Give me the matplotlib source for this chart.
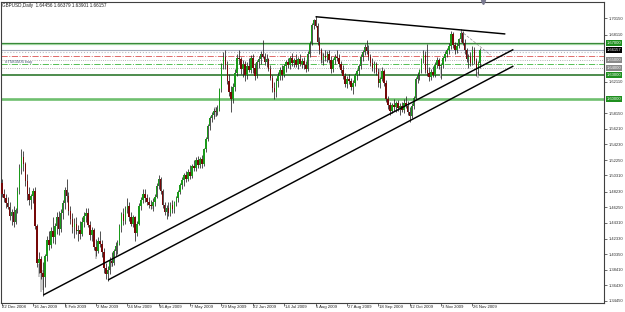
import numpy as np
import matplotlib.pyplot as plt
from matplotlib.transforms import blended_transform_factory

plt.rcParams["font.family"] = ["Liberation Sans", "DejaVu Sans"]

# ===========================
# Data
# ===========================

header = "GBPUSD,Daily  1.64456 1.66379 1.63901 1.66157"

# one entry per daily bar, 22 Dec 2008 .. early Dec 2009
opens = [
    1.4930, 1.4800, 1.4740, 1.4680, 1.4630, 1.4520, 1.4570, 1.4440, 1.4590, 1.4830,
    1.5120, 1.5260, 1.5180, 1.4960, 1.4790, 1.4720, 1.4770, 1.4830, 1.4390, 1.3920,
    1.3980, 1.3800, 1.3750, 1.4010, 1.4220, 1.4150, 1.4330, 1.4250, 1.4390, 1.4500,
    1.4350, 1.4550, 1.4680, 1.4840, 1.4770, 1.4580, 1.4480, 1.4380, 1.4420, 1.4330,
    1.4340, 1.4290, 1.4440, 1.4520, 1.4560, 1.4410, 1.4280, 1.4340, 1.4130, 1.4080,
    1.4200, 1.4160, 1.4060, 1.3860, 1.3780, 1.3830, 1.3950, 1.3920, 1.4070, 1.4140,
    1.4180, 1.4390, 1.4540, 1.4460, 1.4600, 1.4650, 1.4500, 1.4420, 1.4500, 1.4300,
    1.4420, 1.4640, 1.4720, 1.4800, 1.4740, 1.4700, 1.4660, 1.4640, 1.4700, 1.4760,
    1.4900, 1.4980, 1.4830, 1.4660, 1.4570, 1.4620, 1.4560, 1.4660, 1.4600, 1.4690,
    1.4740, 1.4820, 1.4910, 1.4970, 1.5030, 1.4990, 1.5070, 1.5020, 1.5150, 1.5120,
    1.5220, 1.5160, 1.5240, 1.5170, 1.5360, 1.5490, 1.5650, 1.5750, 1.5790, 1.5840,
    1.5830, 1.5870, 1.6120, 1.6420, 1.6530, 1.6420, 1.6220, 1.6080, 1.5990, 1.6150,
    1.6330, 1.6520, 1.6500, 1.6370, 1.6440, 1.6300, 1.6410, 1.6360, 1.6510, 1.6390,
    1.6290, 1.6460, 1.6500, 1.6560, 1.6530, 1.6470, 1.6500, 1.6380, 1.6260, 1.6140,
    1.6080, 1.6220, 1.6290, 1.6360, 1.6300, 1.6410, 1.6460, 1.6420, 1.6510, 1.6450,
    1.6490, 1.6430, 1.6500, 1.6440, 1.6480, 1.6420, 1.6370, 1.6570, 1.6700, 1.6930,
    1.6990, 1.6920, 1.6720, 1.6610, 1.6490, 1.6540, 1.6520, 1.6570, 1.6490, 1.6370,
    1.6490, 1.6530, 1.6510, 1.6440, 1.6360, 1.6290, 1.6190, 1.6250, 1.6220, 1.6150,
    1.6200, 1.6300, 1.6350, 1.6410, 1.6530, 1.6590, 1.6650, 1.6600, 1.6530, 1.6450,
    1.6390, 1.6440, 1.6340, 1.6200, 1.6250, 1.6350, 1.6200, 1.6000, 1.5920, 1.5850,
    1.5920, 1.5890, 1.5940, 1.5880, 1.5910, 1.5860, 1.5950, 1.5910, 1.5830, 1.5780,
    1.5910, 1.6010, 1.6250, 1.6300, 1.6360, 1.6490, 1.6550, 1.6360, 1.6330, 1.6280,
    1.6340, 1.6300, 1.6430, 1.6490, 1.6410, 1.6420, 1.6510, 1.6570, 1.6610, 1.6660,
    1.6820, 1.6680, 1.6620, 1.6670, 1.6750, 1.6830, 1.6710, 1.6610, 1.6500, 1.6530,
    1.6450, 1.6620, 1.6480, 1.6380, 1.64456,
]

highs = [
    1.4990, 1.4860, 1.4790, 1.4760, 1.4700, 1.4610, 1.4650, 1.4620, 1.4880, 1.5180,
    1.5370, 1.5340, 1.5200, 1.5050, 1.4880, 1.4800, 1.4870, 1.4880, 1.4420, 1.4060,
    1.4010, 1.3940, 1.4040, 1.4260, 1.4330, 1.4380, 1.4500, 1.4430, 1.4570, 1.4580,
    1.4600, 1.4720, 1.4880, 1.4990, 1.4820, 1.4650, 1.4560, 1.4490, 1.4500, 1.4400,
    1.4460, 1.4500, 1.4570, 1.4620, 1.4620, 1.4460, 1.4380, 1.4360, 1.4230, 1.4250,
    1.4330, 1.4220, 1.4110, 1.3920, 1.3880, 1.4000, 1.4060, 1.4100, 1.4190, 1.4220,
    1.4420, 1.4570, 1.4620, 1.4640, 1.4740, 1.4700, 1.4570, 1.4530, 1.4520, 1.4450,
    1.4680, 1.4760, 1.4860, 1.4860, 1.4790, 1.4760, 1.4720, 1.4740, 1.4790, 1.4930,
    1.5040, 1.5010, 1.4860, 1.4700, 1.4660, 1.4690, 1.4700, 1.4720, 1.4710, 1.4770,
    1.4850, 1.4940, 1.5010, 1.5060, 1.5080, 1.5110, 1.5160, 1.5180, 1.5220, 1.5260,
    1.5280, 1.5260, 1.5290, 1.5380, 1.5520, 1.5680, 1.5780, 1.5830, 1.5880, 1.5900,
    1.5920, 1.6140, 1.6450, 1.6590, 1.6620, 1.6480, 1.6310, 1.6160, 1.6200, 1.6370,
    1.6560, 1.6620, 1.6530, 1.6490, 1.6480, 1.6460, 1.6520, 1.6550, 1.6560, 1.6450,
    1.6490, 1.6540, 1.6600, 1.6740, 1.6580, 1.6560, 1.6520, 1.6420, 1.6300, 1.6210,
    1.6260, 1.6340, 1.6400, 1.6420, 1.6440, 1.6490, 1.6520, 1.6540, 1.6580, 1.6520,
    1.6560, 1.6530, 1.6560, 1.6520, 1.6530, 1.6480, 1.6600, 1.6730, 1.6960, 1.7010,
    1.7040, 1.6960, 1.6780, 1.6640, 1.6580, 1.6610, 1.6600, 1.6620, 1.6540, 1.6520,
    1.6560, 1.6610, 1.6570, 1.6480, 1.6430, 1.6320, 1.6290, 1.6310, 1.6260, 1.6240,
    1.6330, 1.6380, 1.6440, 1.6560, 1.6620, 1.6690, 1.6740, 1.6680, 1.6570, 1.6510,
    1.6480, 1.6470, 1.6390, 1.6280, 1.6400, 1.6370, 1.6230, 1.6030, 1.5960, 1.5950,
    1.5990, 1.5970, 1.5980, 1.5940, 1.5960, 1.5990, 1.6040, 1.5970, 1.5900, 1.5950,
    1.6040, 1.6270, 1.6340, 1.6380, 1.6520, 1.6610, 1.6600, 1.6690, 1.6400, 1.6380,
    1.6410, 1.6460, 1.6530, 1.6520, 1.6450, 1.6540, 1.6600, 1.6640, 1.6700, 1.6860,
    1.6840, 1.6720, 1.6700, 1.6770, 1.6880, 1.6860, 1.6750, 1.6640, 1.6560, 1.6590,
    1.6660, 1.6650, 1.6520, 1.6480, 1.66379,
]

lows = [
    1.4760, 1.4700, 1.4620, 1.4600, 1.4470, 1.4400, 1.4380, 1.4420, 1.4560, 1.4800,
    1.5050, 1.5090, 1.4900, 1.4720, 1.4660, 1.4600, 1.4680, 1.4350, 1.3870, 1.3800,
    1.3720, 1.3510, 1.3620, 1.3950, 1.4090, 1.4110, 1.4180, 1.4160, 1.4290, 1.4280,
    1.4310, 1.4480, 1.4600, 1.4700, 1.4530, 1.4420, 1.4300, 1.4240, 1.4290, 1.4200,
    1.4230, 1.4260, 1.4380, 1.4440, 1.4380, 1.4220, 1.4200, 1.4090, 1.4010, 1.4050,
    1.4130, 1.4000, 1.3800, 1.3720, 1.3700, 1.3790, 1.3880, 1.3900, 1.4010, 1.4040,
    1.4150, 1.4320, 1.4400, 1.4420, 1.4560, 1.4460, 1.4390, 1.4380, 1.4200, 1.4270,
    1.4400, 1.4590, 1.4680, 1.4700, 1.4660, 1.4620, 1.4600, 1.4580, 1.4640, 1.4740,
    1.4860, 1.4800, 1.4620, 1.4530, 1.4480, 1.4520, 1.4520, 1.4560, 1.4560, 1.4640,
    1.4700, 1.4790, 1.4860, 1.4900, 1.4950, 1.4960, 1.4990, 1.5000, 1.5080, 1.5090,
    1.5130, 1.5120, 1.5130, 1.5150, 1.5330, 1.5460, 1.5600, 1.5700, 1.5740, 1.5780,
    1.5790, 1.5850, 1.6080, 1.6380, 1.6370, 1.6180, 1.6030, 1.5830, 1.5950, 1.6100,
    1.6290, 1.6440, 1.6310, 1.6270, 1.6220, 1.6250, 1.6340, 1.6320, 1.6330, 1.6230,
    1.6260, 1.6390, 1.6440, 1.6510, 1.6420, 1.6400, 1.6350, 1.6230, 1.6090, 1.5990,
    1.6020, 1.6150, 1.6230, 1.6240, 1.6270, 1.6340, 1.6390, 1.6380, 1.6410, 1.6400,
    1.6400, 1.6380, 1.6410, 1.6390, 1.6380, 1.6340, 1.6350, 1.6530, 1.6680, 1.6880,
    1.6900, 1.6680, 1.6560, 1.6450, 1.6430, 1.6480, 1.6470, 1.6450, 1.6320, 1.6340,
    1.6440, 1.6480, 1.6400, 1.6320, 1.6250, 1.6150, 1.6140, 1.6180, 1.6110, 1.6060,
    1.6160, 1.6240, 1.6300, 1.6380, 1.6480, 1.6550, 1.6560, 1.6490, 1.6410, 1.6350,
    1.6330, 1.6300, 1.6150, 1.6130, 1.6220, 1.6160, 1.5960, 1.5870, 1.5790, 1.5820,
    1.5850, 1.5830, 1.5850, 1.5800, 1.5830, 1.5820, 1.5880, 1.5790, 1.5710, 1.5750,
    1.5870, 1.5990, 1.6200, 1.6230, 1.6330, 1.6450, 1.6320, 1.6290, 1.6220, 1.6230,
    1.6270, 1.6280, 1.6390, 1.6380, 1.6250, 1.6390, 1.6480, 1.6530, 1.6570, 1.6630,
    1.6640, 1.6560, 1.6580, 1.6640, 1.6720, 1.6680, 1.6570, 1.6460, 1.6390, 1.6410,
    1.6420, 1.6440, 1.6290, 1.6300, 1.63901,
]

closes = [
    1.4800, 1.4740, 1.4680, 1.4630, 1.4520, 1.4570, 1.4440, 1.4590, 1.4830, 1.5120,
    1.5260, 1.5180, 1.4960, 1.4790, 1.4720, 1.4770, 1.4830, 1.4390, 1.3920, 1.3980,
    1.3800, 1.3750, 1.4010, 1.4220, 1.4150, 1.4330, 1.4250, 1.4390, 1.4500, 1.4350,
    1.4550, 1.4680, 1.4840, 1.4770, 1.4580, 1.4480, 1.4380, 1.4420, 1.4330, 1.4340,
    1.4290, 1.4440, 1.4520, 1.4560, 1.4410, 1.4280, 1.4340, 1.4130, 1.4080, 1.4200,
    1.4160, 1.4060, 1.3860, 1.3780, 1.3830, 1.3950, 1.3920, 1.4070, 1.4140, 1.4180,
    1.4390, 1.4540, 1.4460, 1.4600, 1.4650, 1.4500, 1.4420, 1.4500, 1.4300, 1.4420,
    1.4640, 1.4720, 1.4800, 1.4740, 1.4700, 1.4660, 1.4640, 1.4700, 1.4760, 1.4900,
    1.4980, 1.4830, 1.4660, 1.4570, 1.4620, 1.4560, 1.4660, 1.4600, 1.4690, 1.4740,
    1.4820, 1.4910, 1.4970, 1.5030, 1.4990, 1.5070, 1.5020, 1.5150, 1.5120, 1.5220,
    1.5160, 1.5240, 1.5170, 1.5360, 1.5490, 1.5650, 1.5750, 1.5790, 1.5840, 1.5830,
    1.5870, 1.6120, 1.6420, 1.6530, 1.6420, 1.6220, 1.6080, 1.5990, 1.6150, 1.6330,
    1.6520, 1.6500, 1.6370, 1.6440, 1.6300, 1.6410, 1.6360, 1.6510, 1.6390, 1.6290,
    1.6460, 1.6500, 1.6560, 1.6530, 1.6470, 1.6500, 1.6380, 1.6260, 1.6140, 1.6080,
    1.6220, 1.6290, 1.6360, 1.6300, 1.6410, 1.6460, 1.6420, 1.6510, 1.6450, 1.6490,
    1.6430, 1.6500, 1.6440, 1.6480, 1.6420, 1.6370, 1.6570, 1.6700, 1.6930, 1.6990,
    1.6920, 1.6720, 1.6610, 1.6490, 1.6540, 1.6520, 1.6570, 1.6490, 1.6370, 1.6490,
    1.6530, 1.6510, 1.6440, 1.6360, 1.6290, 1.6190, 1.6250, 1.6220, 1.6150, 1.6200,
    1.6300, 1.6350, 1.6410, 1.6530, 1.6590, 1.6650, 1.6600, 1.6530, 1.6450, 1.6390,
    1.6440, 1.6340, 1.6200, 1.6250, 1.6350, 1.6200, 1.6000, 1.5920, 1.5850, 1.5920,
    1.5890, 1.5940, 1.5880, 1.5910, 1.5860, 1.5950, 1.5910, 1.5830, 1.5780, 1.5910,
    1.6010, 1.6250, 1.6300, 1.6360, 1.6490, 1.6550, 1.6360, 1.6330, 1.6280, 1.6340,
    1.6300, 1.6430, 1.6490, 1.6410, 1.6420, 1.6510, 1.6570, 1.6610, 1.6660, 1.6820,
    1.6680, 1.6620, 1.6670, 1.6750, 1.6830, 1.6710, 1.6610, 1.6500, 1.6530, 1.6450,
    1.6620, 1.6480, 1.6380, 1.6450, 1.66157,
]

# light grey "shadow" bars seen behind some candles
ghost_bars = [19, 20, 21, 48, 56, 77, 109, 164, 193, 224, 243]
ghost_lo = [1.3748, 1.3558, 1.3579, 1.3980, 1.3874, 1.4612, 1.5772, 1.6447, 1.6236, 1.6257, 1.6257]
ghost_hi = [1.3917, 1.3874, 1.3832, 1.4085, 1.3980, 1.4697, 1.5899, 1.6574, 1.6384, 1.6405, 1.6342]

date_labels = [
    "22 Dec 2008", "16 Jan 2009", "6 Feb 2009", "2 Mar 2009", "24 Mar 2009",
    "16 Apr 2009", "7 May 2009", "29 May 2009", "22 Jun 2009", "14 Jul 2009",
    "5 Aug 2009", "27 Aug 2009", "18 Sep 2009", "12 Oct 2009", "3 Nov 2009",
    "26 Nov 2009",
]
date_bars = [0, 16, 32, 48, 64, 80, 96, 112, 128, 144, 160, 176, 192, 208, 224, 240]

price_ticks = [1.70150, 1.68110, 1.62110, 1.58150, 1.56210, 1.54230, 1.52250, 1.50310,
               1.48230, 1.46250, 1.44310, 1.42330, 1.40350, 1.38410, 1.36430, 1.34450]

# trend lines: (bar, price) end points
resist_line = ([160.0, 256.8], [1.7036, 1.6818])
support_1 = ([21.2, 260.9], [1.3520, 1.6622])
support_2 = ([54.2, 260.9], [1.3709, 1.6413])
zigzag_line = ([233.9, 249.2], [1.6859, 1.6552])

# horizontal levels
level_prices = [1.6700, 1.6688, 1.66157, 1.6590, 1.6537, 1.6490, 1.6440, 1.6390, 1.6300, 1.6000]
level_colors = ["#2b7d2b", "#9fd59f", "#a3aabb", "#b8b8c0", "#e06a6a", "#9a9a9a",
                "#55c055", "#9a9a9a", "#1d6e1d", "#6fbf6f"]
level_styles = ["-", "-", "-", ":", "-.", ":", "-.", ":", "-", "-"]
level_widths = [0.9, 0.9, 0.8, 0.8, 0.7, 0.6, 0.7, 0.6, 1.1, 1.9]

# boxes on the price scale
box_prices = [1.6700, 1.66157, 1.6490, 1.6390, 1.6300, 1.6000]
box_texts = ["1.67000", "1.66157", "1.65000", "1.64000", "1.63000", "1.60000"]
box_colors = ["#1f8f1f", "#000000", "#8a8a8a", "#8a8a8a", "#1f8f1f", "#1f8f1f"]

# ===========================
# Figure
# ===========================

W, H = 625, 312
fig = plt.figure(figsize=(W / 100, H / 100), dpi=100)
ax = fig.add_axes([0.8 / W, 1 - 303 / H, 603.5 / W, 301 / H])

bar_px = 31.4 / 16
x_left = -1.0 / bar_px
ax.set_xlim(x_left, x_left + 604 / bar_px)
ax.set_ylim(1.3418, 1.7222)

o = np.array(opens)
h = np.array(highs)
l = np.array(lows)
c = np.array(closes)
idx = np.arange(len(c))
up = c >= o

ax.bar(ghost_bars, np.array(ghost_hi) - np.array(ghost_lo), bottom=ghost_lo,
       width=1.1, color="#c9c9c9", zorder=2)
ax.vlines(idx, l, h, color="#202020", lw=0.55, zorder=3)
ax.bar(idx[up], np.maximum(c - o, 0.0005)[up], bottom=o[up], width=0.8,
       color="#1a9a1a", zorder=4)
ax.bar(idx[~up], np.maximum(o - c, 0.0005)[~up], bottom=c[~up], width=0.8,
       color="#760808", zorder=4)

for p, col, ls, lw in zip(level_prices, level_colors, level_styles, level_widths):
    ax.axhline(p, color=col, ls=ls, lw=lw, zorder=1)

for xs, ys in (resist_line, support_1, support_2):
    ax.plot(xs, ys, color="black", lw=1.05, zorder=5, solid_capstyle="butt")
ax.plot(*zigzag_line, color="#8a8a8a", lw=0.5, ls=(0, (4, 2)), zorder=5)

# axes styling
for s in ax.spines.values():
    s.set_color("#404040")
    s.set_linewidth(0.8)

ax.yaxis.tick_right()
ax.set_yticks(price_ticks)
ax.set_yticklabels([f"{v:.5f}" for v in price_ticks])
ax.tick_params(axis="y", labelsize=3.0, length=2, width=0.5, pad=1.0,
               colors="#303030")

ax.set_xticks(date_bars)
ax.tick_params(axis="x", length=2.2, width=0.5, labelbottom=False, colors="#303030")
xt = ax.get_xaxis_transform()
for b, lab in zip(date_bars, date_labels):
    ax.text(b + 0.3, -0.007, lab, transform=xt, ha="left", va="top",
            fontsize=3.1, color="#202020", clip_on=False)

yt = blended_transform_factory(ax.transAxes, ax.transData)
for p, t, col in zip(box_prices, box_texts, box_colors):
    ax.text(1.004, p, t, transform=yt, ha="left", va="center", fontsize=3.0,
            color="white", clip_on=False, zorder=6,
            bbox=dict(boxstyle="square,pad=0.2", fc=col, ec="none"))

fig.text(2.5 / W, 1 - 6 / H, header, ha="left", va="center", fontsize=3.35,
         color="#202020")
ax.text(1.5, 1.6470, "#7583505 buy", ha="left", va="center", fontsize=3.2,
        color="#405070", zorder=6)

# chart shift marker at the top
ax.plot([245.6], [1.0], transform=blended_transform_factory(ax.transData, ax.transAxes),
        marker="v", ms=3, color="#7a7a90", clip_on=False, zorder=7)

fig.savefig("out.png", dpi=100)
